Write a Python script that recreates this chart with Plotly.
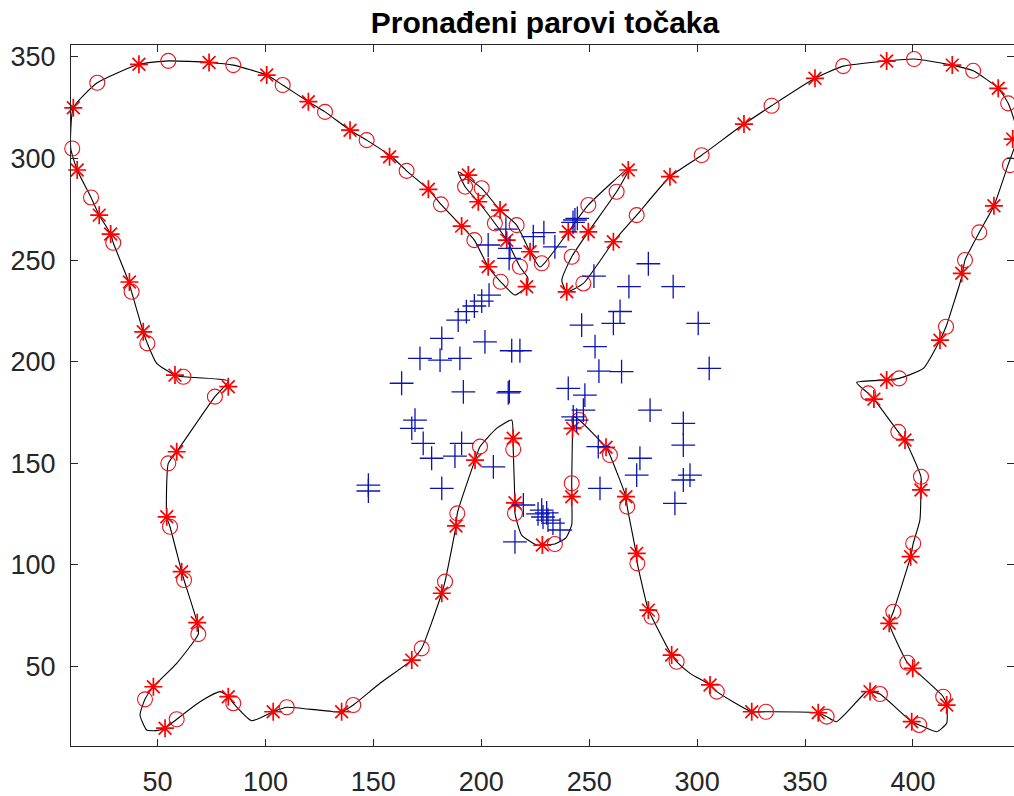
import plotly.graph_objects as go

# ---- butterfly outline (closed contour) ----
outline_x = [82.8, 76.6, 58.9, 55.0, 54.3, 55.8, 61.2, 62.3, 68.4, 68.9, 58.9, 48.1, 44.2, 41.9, 45.0,
             49.6, 53.5, 58.9, 69.7, 79.0, 82.8, 85.1, 93.6, 103.6, 109.9, 135.3, 140.7, 153.1, 167.8,
             172.4, 181.7, 183.2, 188.3, 188.9, 197.1, 199.4, 207.1, 214.1, 214.8, 214.8, 215.6, 215.6,
             218.7, 225.7, 228.3, 234.1, 239.2, 241.9, 241.9, 241.9, 242.3, 242.6, 245.4, 257.8, 259.6,
             267.0, 267.6, 271.7, 272.3, 277.4, 278.9, 288.2, 290.5, 296.7, 306.0, 309.1, 325.3, 331.9,
             356.1, 360.0, 364.6, 378.5, 380.1, 384.7, 399.4, 402.9, 411.0, 415.6, 415.6, 414.0, 399.9,
             397.4, 389.0, 390.9, 398.9, 400.1, 403.2, 403.7, 403.7, 396.3, 393.2, 381.9, 379.3, 373.9,
             387.8, 393.6, 404.8, 412.5, 415.3, 422.6, 424.1, 430.7, 437.5, 444.0, 448.6, 444.1, 439.5,
             427.9, 418.2, 400.5, 387.8, 367.7, 354.6, 334.5, 321.7, 302.1, 287.4, 272.0, 261.2, 247.3,
             239.6, 237.3, 241.9, 249.6, 262.7, 268.9, 249.6, 240.3, 227.2, 222.6, 216.4, 208.7, 200.2,
             189.3, 192.5, 198.6, 206.3, 211.8, 217.9, 221.6, 221.0, 215.6, 209.0, 203.2, 196.8, 190.9,
             181.3, 175.5, 165.4, 158.5, 146.9, 139.2, 127.6, 119.9, 108.0, 100.6, 85.1, 73.9, 55.0,
             41.4, 22.1, 11.0, 9.8, 12.8, 19.2, 23.0, 28.3, 29.5, 36.5, 38.0, 43.4, 45.3, 49.6, 58.1,
             62.0, 82.8]
outline_y = [190.5, 182.8, 155.7, 150.0, 123.7, 118.8, 96.7, 92.6, 71.6, 66.0, 51.6, 40.1, 33.9, 26.2,
             18.8, 18.5, 19.7, 24.1, 32.7, 37.7, 35.2, 32.0, 23.4, 27.8, 30.0, 27.8, 31.1, 41.8, 53.2,
             59.0, 86.1, 91.8, 119.2, 125.4, 151.6, 158.2, 167.2, 171.3, 162.3, 156.9, 130.6, 125.4,
             114.7, 109.8, 109.8, 110.3, 113.3, 119.7, 133.6, 140.2, 167.2, 172.9, 171.3, 157.9, 154.1,
             133.6, 128.7, 106.0, 100.8, 77.8, 74.5, 55.7, 52.4, 46.7, 41.0, 37.7, 27.8, 27.8, 27.3,
             25.4, 22.9, 37.7, 37.7, 36.5, 22.9, 21.3, 18.0, 22.1, 31.1, 35.2, 49.2, 51.9, 71.3, 77.0,
             104.1, 110.6, 122.1, 136.9, 143.4, 161.5, 165.5, 181.6, 184.4, 189.8, 191.0, 191.8, 196.7,
             210.6, 217.2, 241.8, 250.0, 263.6, 276.7, 296.7, 311.5, 327.1, 334.5, 343.1, 345.9, 348.9,
             347.9, 345.4, 339.4, 325.9, 316.9, 301.6, 291.0, 272.1, 259.0, 238.5, 234.4, 240.2, 251.6,
             263.9, 283.6, 295.7, 277.1, 263.9, 246.6, 254.1, 267.2, 274.6, 285.3, 293.4, 286.1, 278.7,
             268.1, 259.8, 246.7, 241.1, 236.9, 232.8, 239.3, 246.7, 259.8, 266.7, 277.4, 284.8, 293.9,
             300.8, 309.0, 313.9, 322.9, 327.9, 336.1, 341.0, 345.9, 347.2, 348.0, 346.3, 337.2, 324.9,
             305.0, 294.3, 280.8, 272.1, 262.8, 258.5, 239.8, 234.4, 214.7, 209.0, 199.2, 193.4, 192.6,
             190.5]

# ---- red circles ----
circle_x = [55.0, 85.1, 22.1, 108.0, 127.6, 146.9, 10.5, 19.2, 29.5,
            165.4, 181.3, 196.8, 209.0, 192.5, 200.2, 206.3, 216.4, 217.9, 228.0,
            249.6, 262.7, 241.9, 247.3, 272.0, 302.1,
            334.5, 367.7, 400.5, 427.9, 444.1, 444.9, 430.7, 424.1,
            415.3, 393.6, 379.3, 393.2, 403.7,
            400.1, 390.9, 397.4, 414.0, 402.9, 384.7, 360.0, 331.9, 309.1,
            290.5, 278.9, 272.3, 267.6, 259.6, 245.4,
            241.9, 234.1, 215.6, 214.8, 199.4, 188.9, 183.2, 172.4,
            140.7, 109.9, 85.1, 58.9, 44.2, 68.9, 62.3, 55.8,
            55.0, 76.6, 62.0, 45.3, 38.0]
circle_y = [348.0, 345.9, 337.2, 336.1, 322.9, 309.0, 304.9, 280.8, 258.5,
            293.9, 277.4, 259.8, 239.3, 286.1, 285.3, 268.1, 267.2, 246.7, 248.4,
            277.1, 283.6, 251.6, 238.5, 272.1, 301.6,
            325.9, 345.4, 348.9, 343.1, 327.1, 296.7, 263.6, 250.0,
            217.2, 191.8, 184.4, 165.5, 143.4,
            110.6, 77.0, 51.9, 35.2, 21.3, 36.5, 25.4, 27.8, 37.7,
            52.4, 74.5, 100.8, 128.7, 154.1, 171.3,
            140.2, 110.3, 125.4, 156.9, 158.2, 125.4, 91.8, 59.0,
            31.1, 30.0, 32.0, 24.1, 33.9, 66.0, 92.6, 118.8,
            150.0, 182.8, 192.6, 209.0, 234.4]

# ---- red asterisks ----
star_x = [41.4, 73.9, 11.0, 100.6, 119.9, 139.2, 157.5, 12.8, 23.0, 28.3, 37.0,
          175.5, 190.9, 203.2, 221.0, 194.0, 198.6, 208.7, 211.8, 222.6,
          240.3, 249.6, 268.1, 261.2, 239.6, 287.4,
          321.7, 354.6, 387.8, 418.2, 439.5, 446.2, 437.5, 422.6,
          412.5, 387.8, 381.9, 396.3, 403.7,
          398.9, 389.0, 399.9, 415.6, 399.4, 380.1, 356.1, 325.3, 306.0,
          288.2, 277.4, 272.0, 267.0, 257.8, 242.3,
          241.9, 228.3, 215.6, 214.8, 197.1, 188.3, 181.7, 167.8,
          135.3, 103.6, 82.8, 53.5, 48.1, 68.4, 61.2, 54.3,
          58.9, 82.8, 58.1, 43.4]
star_y = [346.3, 347.2, 324.9, 341.0, 327.9, 313.9, 300.8, 294.3, 272.1, 262.8, 239.2,
          284.8, 266.7, 246.7, 236.9, 291.8, 278.7, 274.6, 259.8, 254.1,
          263.9, 263.9, 294.3, 259.0, 234.4, 291.0,
          316.9, 339.4, 347.9, 345.9, 334.5, 309.5, 276.7, 243.5,
          210.6, 191.0, 181.6, 161.5, 136.9,
          104.1, 71.3, 49.2, 31.1, 22.9, 37.7, 27.3, 27.8, 41.0,
          55.7, 77.8, 105.7, 133.6, 157.9, 167.2,
          133.6, 109.8, 130.6, 162.3, 151.6, 119.2, 86.1, 53.2,
          27.8, 27.8, 35.2, 19.7, 40.1, 71.6, 96.7, 123.7,
          155.7, 187.7, 193.4, 214.7]

# ---- blue plus markers ----
plus_x = [243.4, 244.5, 242.5, 211.4, 224.1, 229.0, 203.2, 213.3, 234.1, 212.9, 252.2, 277.4,
          268.4, 288.9, 203.6, 200.2, 196.8, 193.1, 189.3, 264.3, 261.2, 246.5, 300.5, 181.7,
          201.7, 214.1, 217.9, 171.6, 180.9, 190.1, 252.7, 254.5, 265.0, 305.6, 163.1, 191.7,
          212.5, 213.0, 240.3, 248.0, 247.3, 242.6, 244.2, 278.2, 169.3, 167.8, 293.6, 173.1,
          190.9, 177.0, 187.8, 254.2, 293.6, 205.6, 273.5, 272.0, 296.7, 293.6, 181.7, 255.0,
          289.7, 219.5, 228.0, 230.3, 228.6, 230.9, 233.2, 236.5, 226.3, 215.6, 147.7, 147.7]
plus_y = [269.7, 270.5, 268.5, 265.2, 261.5, 263.5, 257.4, 255.8, 256.5, 250.8, 242.1, 248.2,
          236.9, 236.9, 232.8, 229.8, 227.4, 224.6, 220.5, 224.7, 218.9, 218.0, 218.9, 211.5,
          209.8, 205.4, 205.4, 201.6, 200.8, 201.6, 207.4, 195.4, 195.1, 196.7, 189.4, 185.2,
          184.7, 185.3, 186.9, 183.6, 176.2, 172.9, 171.3, 176.2, 171.3, 167.2, 169.7, 159.8,
          159.8, 152.5, 153.6, 158.2, 159.0, 148.3, 152.5, 144.2, 144.2, 141.8, 137.7, 137.7,
          130.3, 129.5, 127.0, 125.6, 123.6, 122.1, 120.6, 117.2, 125.1, 111.4, 139.3, 136.4]

x_ticks = [50, 100, 150, 200, 250, 300, 350, 400]
y_ticks = [50, 100, 150, 200, 250, 300, 350]
title_text = "Pronađeni parovi točaka"

AX = "#262626"
FONT = "Liberation Sans, Arial, Helvetica, sans-serif"

fig = go.Figure()
fig.add_trace(go.Scatter(x=outline_x, y=outline_y, mode="lines",
                         line=dict(color="black", width=1.1, shape="spline", smoothing=0.5),
                         hoverinfo="skip", showlegend=False))
fig.add_trace(go.Scatter(x=circle_x, y=circle_y, mode="markers", cliponaxis=False,
                         marker=dict(symbol="circle-open", size=15, color="#e8141b",
                                     line=dict(color="#e8141b", width=1.1)),
                         showlegend=False))
fig.add_trace(go.Scatter(x=star_x, y=star_y, mode="markers", cliponaxis=False,
                         marker=dict(symbol="asterisk-open", size=15, color="#ff0000",
                                     line=dict(color="#ff0000", width=1.7)),
                         showlegend=False))
fig.add_trace(go.Scatter(x=plus_x, y=plus_y, mode="markers", cliponaxis=False,
                         marker=dict(symbol="cross-thin-open", size=17, color="#0a14b4",
                                     line=dict(color="#0a14b4", width=1.3)),
                         showlegend=False))

axis_common = dict(showgrid=False, zeroline=False, showline=True, linecolor=AX, linewidth=1,
                   mirror="ticks", ticks="inside", ticklen=7, tickcolor=AX, tickwidth=1,
                   tickfont=dict(family=FONT, size=27, color=AX))
fig.update_xaxes(range=[9.93, 446.8], tickvals=x_ticks, ticklabelstandoff=12, **axis_common)
fig.update_yaxes(range=[10.95, 355.8], tickvals=y_ticks, ticklabelstandoff=9, **axis_common)

fig.update_layout(
    width=1014, height=796,
    margin=dict(l=71, r=0, t=45, b=50),
    paper_bgcolor="white", plot_bgcolor="white",
    title=dict(text="<b>" + title_text + "</b>", x=0.5375, xanchor="center", y=0.972, yanchor="middle",
               font=dict(family=FONT, size=30, color="black")),
)

# remove the browser's default 8px body margin so the figure fills the window exactly
fig.write_html("out.html", config={"displayModeBar": False},
               post_script="document.body.style.margin='0px';")
